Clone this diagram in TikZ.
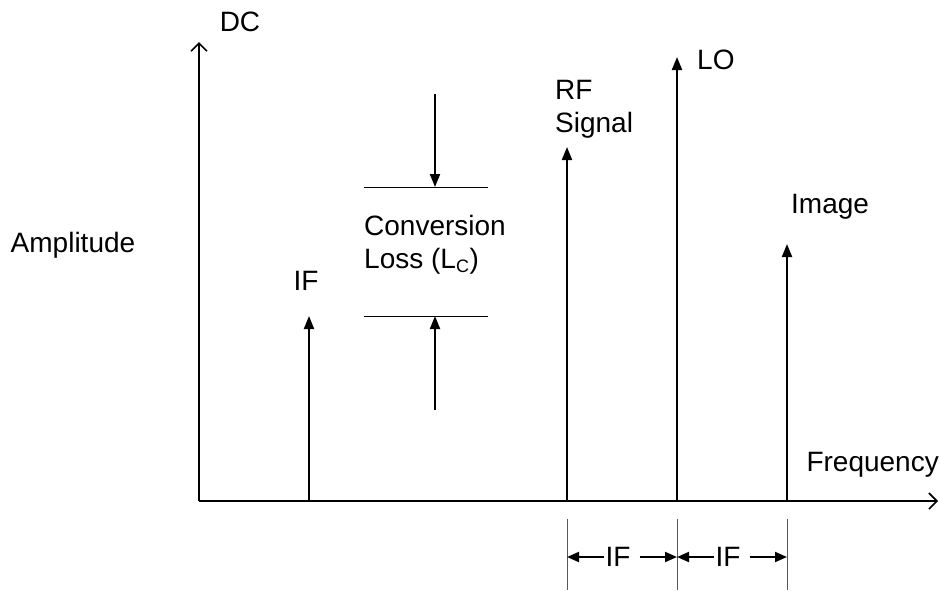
\documentclass[tikz,border=0pt]{standalone}
\usepackage{fontspec}
\setmainfont{Liberation Sans}
\usetikzlibrary{arrows.meta}
\begin{document}
\begin{tikzpicture}[x=1pt,y=-1pt,
  lbl/.style={font=\fontsize{28}{33}\selectfont, inner sep=0pt},
  spike/.style={line width=2pt, -{Triangle[length=13pt,width=10pt]}},
  axisline/.style={line width=2pt, -{Straight Barb[length=8pt,width=16pt,line width=1.6pt]}},
  thinline/.style={line width=1pt},
  dimline/.style={line width=0.8pt, gray!70!black},
  dimarrow/.style={line width=2pt, -{Triangle[length=12pt,width=10pt]}}]
\useasboundingbox (0,0) rectangle (940,590);

% axes
\coordinate (O) at (199,501);
\coordinate (ytop) at (199,42);
\coordinate (xend) at (938,501);
\draw[axisline] (O) -- (ytop);
\draw[axisline] (O) -- (xend);

% spectral lines
\coordinate (ifb) at (309,501);   \coordinate (ift) at (309,316);
\coordinate (rfb) at (567,501);   \coordinate (rft) at (567,147);
\coordinate (lob) at (677,501);   \coordinate (lot) at (677,57);
\coordinate (imb) at (787,501);   \coordinate (imt) at (787,244);
\draw[spike] (ifb) -- (ift);
\draw[spike] (rfb) -- (rft);
\draw[spike] (lob) -- (lot);
\draw[spike] (imb) -- (imt);

% labels
\node[lbl] (dc) at (240,22) {DC};
\node[lbl] (amp) at (73,245) {Amplitude};
\node[lbl, anchor=east] (freq) at (939,465) {Frequency};
\node[lbl] (iflbl) at (306,281) {IF};
\node[lbl, anchor=west, align=left] (rflbl) at (555,109) {RF\\Signal};
\node[lbl, anchor=west] (lolbl) at (697,60) {LO};
\node[lbl, anchor=west] (imlbl) at (791,207) {Image};

% conversion loss
\coordinate (t1) at (364,187); \coordinate (t2) at (488,187);
\coordinate (b1) at (364,316); \coordinate (b2) at (488,316);
\draw[thinline] (t1) -- (t2);
\draw[thinline] (b1) -- (b2);
\coordinate (ta) at (435,94);  \coordinate (tt) at (435,187);
\coordinate (ba) at (435,410); \coordinate (bt) at (435,316);
\draw[spike] (ta) -- (tt);
\draw[spike] (ba) -- (bt);
\node[lbl, anchor=west, align=left] (cl) at (364,245) {Conversion\\Loss (L\textsubscript{\fontsize{18}{20}\selectfont C})};

% IF spacing dimensions
\coordinate (v1t) at (567,519); \coordinate (v1b) at (567,590);
\coordinate (v2t) at (677,519); \coordinate (v2b) at (677,590);
\coordinate (v3t) at (787,519); \coordinate (v3b) at (787,590);
\draw[dimline] (v1t) -- (v1b);
\draw[dimline] (v2t) -- (v2b);
\draw[dimline] (v3t) -- (v3b);
\coordinate (d1) at (567,557);
\coordinate (d2) at (677,557);
\coordinate (d3) at (787,557);
\node[lbl] (dif1) at (618,557) {IF};
\node[lbl] (dif2) at (728,557) {IF};
\draw[dimarrow] ([xshift=-1pt]dif1.west) -- (d1);
\draw[dimarrow] ([xshift=9pt]dif1.east) -- (d2);
\draw[dimarrow] ([xshift=-1pt]dif2.west) -- (d2);
\draw[dimarrow] ([xshift=9pt]dif2.east) -- (d3);
\end{tikzpicture}
\end{document}
